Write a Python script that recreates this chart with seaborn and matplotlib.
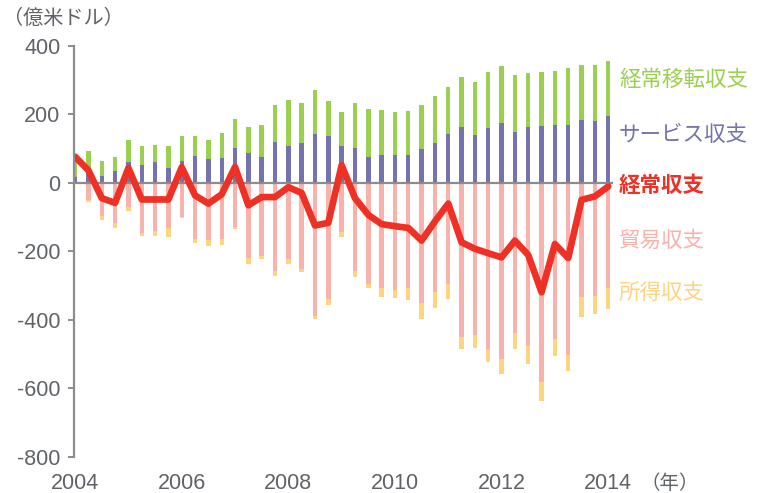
import numpy as np
import pandas as pd
import matplotlib
matplotlib.use("Agg")
import matplotlib.pyplot as plt
import seaborn as sns

# ---- data (億米ドル, quarterly 2004Q1 - 2014Q1) ----
quarters = list(range(41))
year_ticks = [0, 8, 16, 24, 32, 40]
year_labels = ["2004", "2006", "2008", "2010", "2012", "2014"]

services = [17, 25, 21, 33, 60, 53, 60, 43, 62, 78, 69, 72, 100, 87, 75, 119, 107, 115, 141, 136,
            108, 101, 76, 80, 80, 80, 98, 117, 141, 162, 139, 159, 174, 148, 162, 165, 168, 168, 182, 180, 194]
transfers = [61, 67, 43, 42, 64, 55, 51, 65, 75, 58, 55, 73, 85, 77, 93, 109, 134, 117, 131, 103,
             98, 131, 139, 132, 126, 129, 129, 136, 138, 147, 156, 165, 167, 167, 159, 157, 157, 166, 161, 163, 162]
trade = [-2, -50, -96, -117, -71, -147, -142, -132, -99, -163, -167, -165, -128, -219, -213, -259, -222, -252, -390, -340,
         -145, -257, -296, -308, -312, -306, -350, -318, -296, -450, -445, -486, -515, -439, -477, -582, -457, -503, -333, -331, -307]
income = [-1, -7, -12, -15, -12, -8, -14, -26, -4, -14, -18, -17, -8, -18, -11, -14, -15, -8, -8, -16,
          -14, -19, -10, -26, -24, -37, -49, -48, -45, -35, -38, -37, -44, -47, -53, -55, -48, -48, -60, -52, -62]
current = [76, 36, -45, -59, 43, -49, -49, -49, 45, -37, -61, -34, 46, -66, -42, -42, -13, -30, -125, -117,
           51, -45, -94, -121, -127, -132, -169, -113, -61, -174, -193, -206, -218, -169, -211, -320, -179, -220, -50, -40, -11]

df = pd.DataFrame({
    "q": quarters,
    "services": services,
    "transfers": transfers,
    "trade": trade,
    "income": income,
    "current": current,
})
df["pos_top"] = df["services"] + df["transfers"]
df["neg_bottom"] = df["trade"] + df["income"]

C_PURPLE = "#7473AF"
C_GREEN = "#9BCF50"
C_PINK = "#F9B1AB"
C_YELLOW = "#FFD47F"
C_RED = "#EE3124"
C_GREY = "#5f6368"

sns.set_style("white")
plt.rcParams["font.family"] = ["Liberation Sans", "Noto Sans CJK JP", "DejaVu Sans"]

fig = plt.figure(figsize=(7.58, 4.93), dpi=100)
ax = fig.add_axes([73.5 / 758, 1 - 456.7 / 493, (613 - 73.5) / 758, (456.7 - 45.7) / 493])

bw = 0.33
common = dict(x="q", data=df, order=quarters, errorbar=None, saturation=1, width=bw, ax=ax, linewidth=0)
sns.barplot(y="pos_top", color=C_GREEN, zorder=2, **common)
sns.barplot(y="services", color=C_PURPLE, zorder=3, **common)
sns.barplot(y="neg_bottom", color=C_YELLOW, zorder=2, **common)
sns.barplot(y="trade", color=C_PINK, zorder=3, **common)

ax.axhline(0, color="#8c8c8c", lw=1.6, zorder=4)

sns.lineplot(x="q", y="current", data=df, color=C_RED, lw=4.8, ax=ax, zorder=5,
             solid_joinstyle="round", solid_capstyle="round")

ax.set_xlim(-0.12, 40.36)
ax.set_ylim(-800, 400)
ax.set_yticks(range(-800, 401, 200))
ax.set_yticklabels([str(v) for v in range(-800, 401, 200)])
ax.set_xticks(year_ticks)
ax.set_xticklabels(year_labels)
ax.set_xlabel("")
ax.set_ylabel("")

for s in ["top", "right", "bottom"]:
    ax.spines[s].set_visible(False)
ax.spines["left"].set_color("#8c8c8c")
ax.spines["left"].set_linewidth(1.6)
ax.spines["left"].set_zorder(6)

ax.tick_params(axis="y", direction="out", length=4.5, width=1.4, color="#8c8c8c",
               labelsize=15.5, labelcolor=C_GREY, pad=5, left=True)
ax.tick_params(axis="x", length=0, labelsize=15.5, labelcolor=C_GREY, pad=12)

# unit labels
fig.text(3 / 758, 1 - 18 / 493, "（億米ドル）", fontsize=14.5, color=C_GREY, va="center", ha="left")
fig.text(640 / 758, 1 - 484 / 493, "（年）", fontsize=14, color=C_GREY, va="center", ha="left")

# series labels on the right
labels = [
    ("経常移転収支", 80, C_GREEN, "normal"),
    ("サービス収支", 135, C_PURPLE, "normal"),
    ("経常収支", 186, C_RED, "bold"),
    ("貿易収支", 241, C_PINK, "normal"),
    ("所得収支", 293, C_YELLOW, "normal"),
]
for txt, ypix, col, wt in labels:
    fig.text(619 / 758, 1 - ypix / 493, txt, fontsize=15.5, color=col, fontweight=wt,
             va="center", ha="left", family=["Noto Sans CJK JP", "DejaVu Sans"])

fig.savefig("out.png", dpi=100)
